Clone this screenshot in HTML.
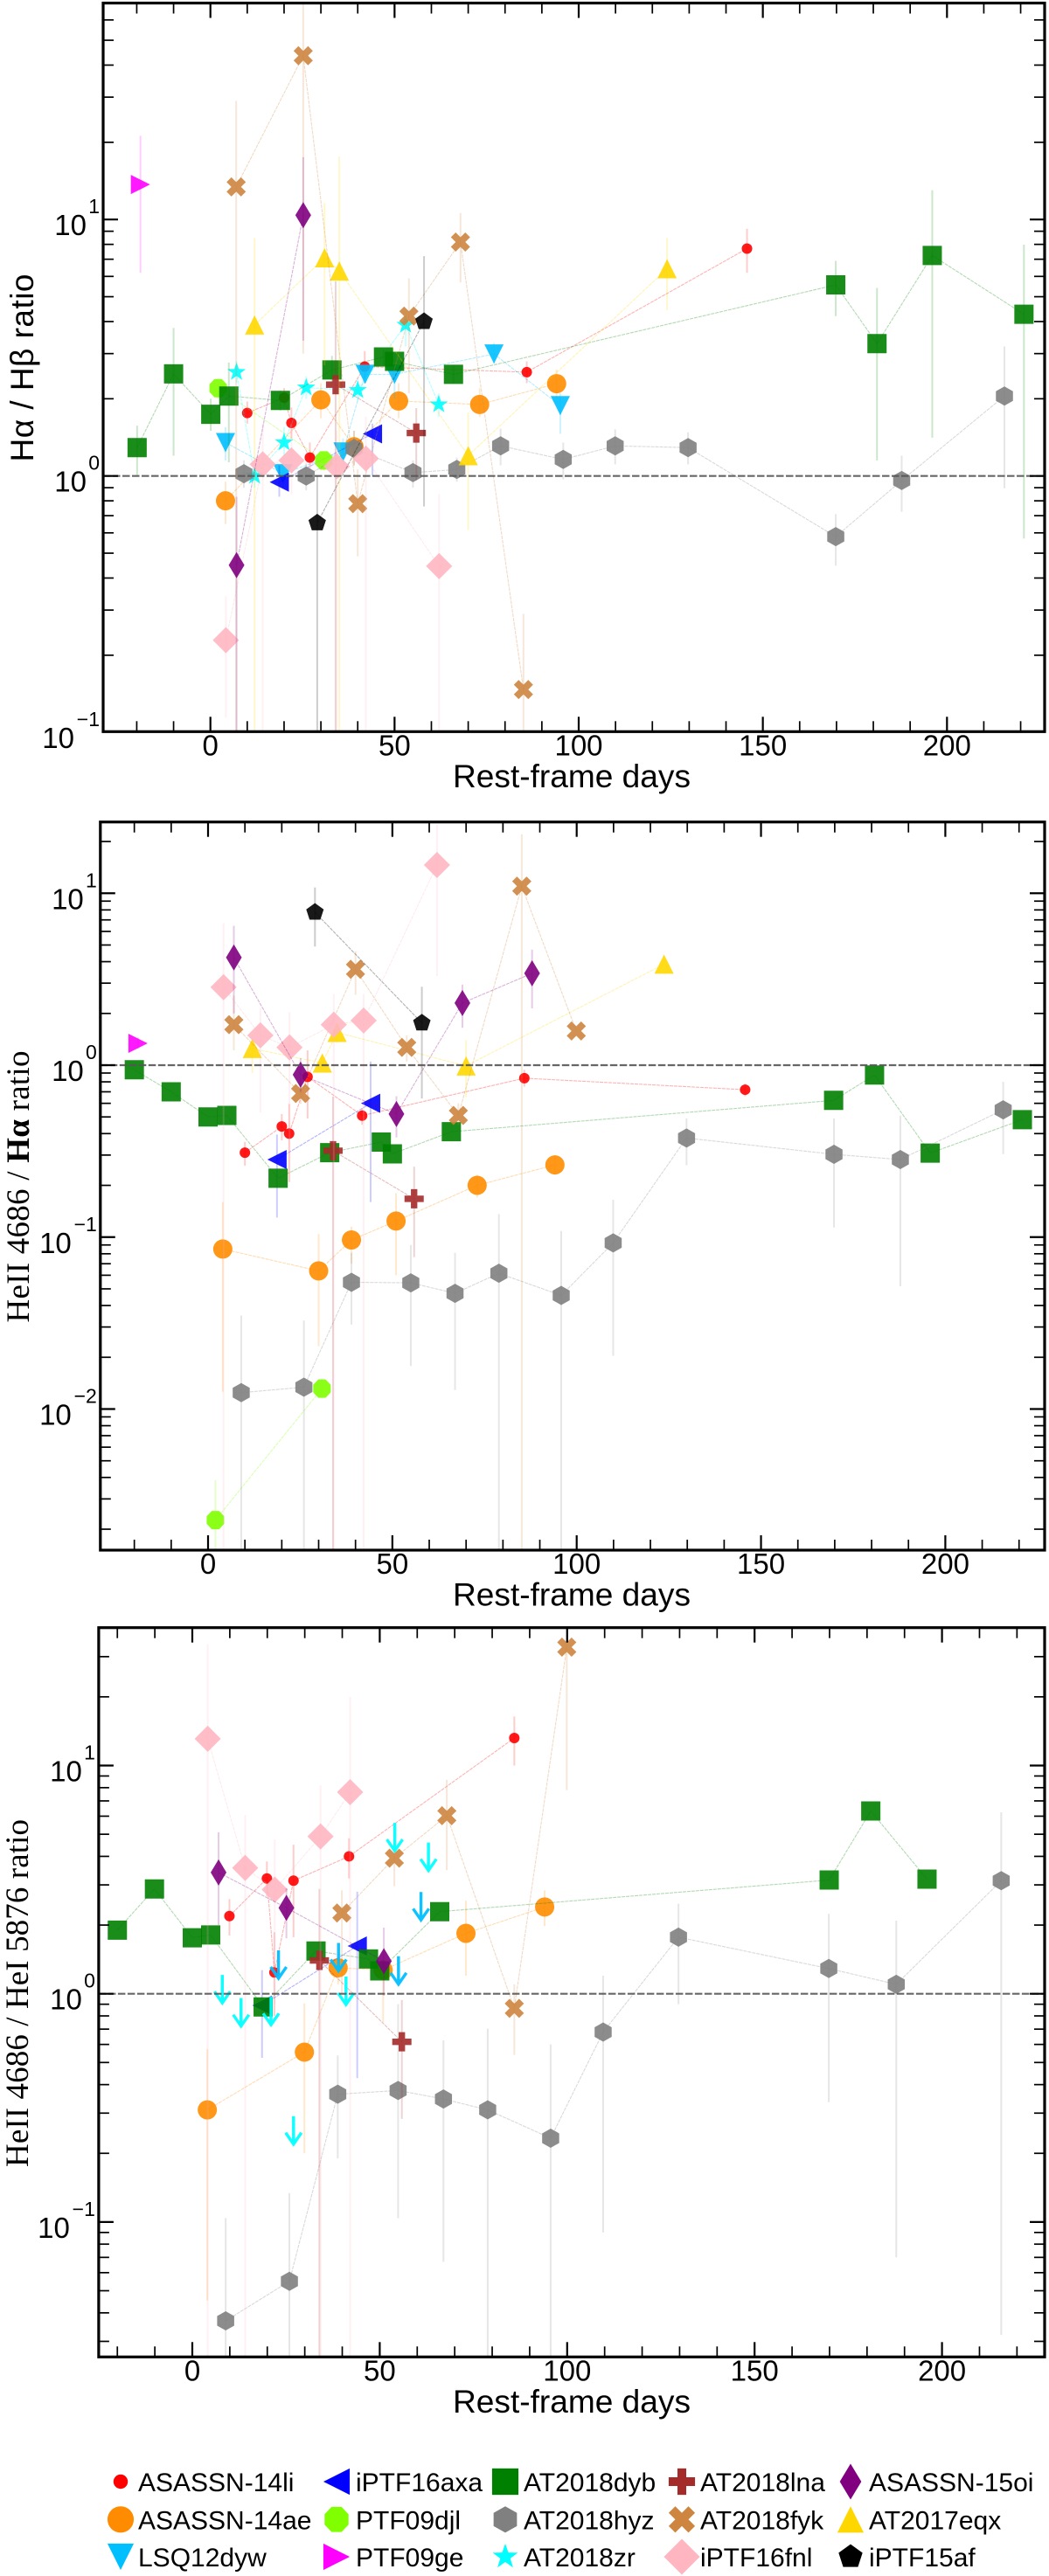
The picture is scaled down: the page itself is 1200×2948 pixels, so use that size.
<!DOCTYPE html>
<html lang="en">
<head>
<meta charset="utf-8">
<title>TDE line ratio evolution</title>
<style>
html,body{margin:0;padding:0;background:#fff;}
svg{display:block;}
text{font-family:"Liberation Sans",sans-serif;fill:#000;}
</style>
</head>
<body>
<svg id="chart" xmlns="http://www.w3.org/2000/svg" width="1200" height="2948" viewBox="0 0 1200 2948"></svg>
<script>
/* ---------- tick labels ---------- */
const xTickLabels = [0, 50, 100, 150, 200];
const p1Decades = [1, 0, -1];
const p2Decades = [1, 0, -1, -2];
const p3Decades = [1, 0, -1];

/* ---------- Panel 1: H-alpha / H-beta ---------- */
const p1LiDays = [10, 20, 22, 27, 41.9, 85.9, 145.7];
const p1LiVal = [1.76, 2.02, 1.61, 1.18, 2.67, 2.54, 7.7];
const p1LiLo = [1.6, 1.85, 1.4, 1.05, 2.3, 2.3, 6.2];
const p1LiHi = [1.95, 2.2, 1.85, 1.35, 3.07, 2.8, 9.2];
const p1AeDays = [4.1, 30, 39, 51.1, 73.1, 94];
const p1AeVal = [0.8, 1.98, 1.3, 1.96, 1.9, 2.29];
const p1AeLo = [0.65, 1.68, 1.1, 1.68, 1.7, 2.0];
const p1AeHi = [0.95, 2.3, 1.5, 2.3, 2.2, 2.6];
const p1LsqDays = [4.1, 19.7, 36, 42, 50, 77, 95];
const p1LsqVal = [1.35, 1.02, 1.24, 2.49, 2.49, 2.99, 1.88];
const p1LsqLo = [1.15, 0.9, 1.1, 2.3, 2.0, 2.75, 1.46];
const p1LsqHi = [1.55, 1.15, 1.4, 2.7, 2.7, 3.3, 2.1];
const p1AxaDays = [18.7, 44];
const p1AxaVal = [0.946, 1.46];
const p1AxaLo = [0.83, 1.0];
const p1AxaHi = [1.1, 1.6];
const p1GeDays = [-19];
const p1GeVal = [13.7];
const p1GeLo = [6.2];
const p1GeHi = [21.2];
const p1DjlDays = [2.1, 30.8];
const p1DjlVal = [2.2, 1.15];
const p1DjlLo = [2.0, 1.05];
const p1DjlHi = [2.4, 1.25];
const p1ZrDays = [7.1, 12, 20, 26, 40, 53, 62];
const p1ZrVal = [2.54, 1.0, 1.35, 2.21, 2.16, 3.88, 1.9];
const p1ZrLo = [2.3, 0.9, 1.2, 2.0, 1.95, 3.2, 1.7];
const p1ZrHi = [2.8, 1.1, 1.55, 2.45, 2.4, 4.4, 2.1];
const p1DybDays = [-19.9, -10, 0.1, 5, 19, 33, 47, 50, 66, 169.8, 181, 196, 220.9];
const p1DybVal = [1.29, 2.5, 1.74, 2.05, 1.97, 2.59, 2.91, 2.8, 2.49, 5.56, 3.28, 7.24, 4.27];
const p1DybLo = [1.01, 1.2, 1.5, 1.13, 1.8, 2.3, 2.7, 2.6, 2.3, 4.2, 1.15, 1.41, 0.57];
const p1DybHi = [1.57, 3.78, 2.0, 2.77, 2.15, 2.94, 3.1, 3.0, 2.7, 6.9, 5.41, 13.0, 7.98];
const p1HyzDays = [9.1, 26, 39, 55, 66.9, 78.8, 95.8, 109.9, 129.7, 169.8, 187.7, 215.6];
const p1HyzVal = [1.02, 1.0, 1.28, 1.03, 1.06, 1.31, 1.16, 1.31, 1.29, 0.58, 0.96, 2.05];
const p1HyzLo = [0.9, 0.88, 1.1, 0.9, 0.95, 1.1, 0.97, 1.11, 1.11, 0.447, 0.725, 0.896];
const p1HyzHi = [1.15, 1.12, 1.5, 1.15, 1.18, 1.53, 1.35, 1.52, 1.48, 0.71, 1.2, 3.2];
const p1LnaDays = [34, 55.9];
const p1LnaVal = [2.27, 1.47];
const p1LnaLo = [0.05, 0.96];
const p1LnaHi = [5.75, 1.84];
const p1EqxDays = [12, 31, 35, 70, 124];
const p1EqxVal = [3.88, 7.09, 6.3, 1.2, 6.43];
const p1EqxLo = [0.05, 2.7, 0.05, 0.615, 4.43];
const p1EqxHi = [8.47, 11.6, 17.6, 1.77, 8.47];
const p1FykDays = [7, 25.2, 40, 53.9, 67.9, 85];
const p1FykVal = [13.4, 43.5, 0.78, 4.2, 8.17, 0.147];
const p1FykLo = [0.05, 3, 0.486, 2.1, 5.68, 0.05];
const p1FykHi = [29, 100, 1.06, 5.9, 10.6, 0.29];
const p1FnlDays = [4.2, 14.2, 22, 34.3, 42.2, 62.1];
const p1FnlVal = [0.229, 1.11, 1.15, 1.09, 1.17, 0.445];
const p1FnlLo = [0.114, 0.05, 0.85, 0.05, 0.05, 0.05];
const p1FnlHi = [0.34, 1.6, 1.6, 1.5, 1.7, 0.85];
const p1OiDays = [7.1, 25.2];
const p1OiVal = [0.449, 10.4];
const p1OiLo = [0.05, 3.37];
const p1OiHi = [0.83, 17.5];
const p1AfDays = [29, 58];
const p1AfVal = [0.656, 4.0];
const p1AfLo = [0.05, 0.76];
const p1AfHi = [1.0, 7.2];

/* ---------- Panel 2: HeII 4686 / H-alpha ---------- */
const p2LiDays = [10, 20, 22, 27, 41.8, 85.8, 145.7];
const p2LiVal = [0.31, 0.44, 0.4, 0.855, 0.509, 0.84, 0.72];
const p2LiLo = [0.26, 0.365, 0.209, 0.49, 0.45, 0.75, 0.66];
const p2LiHi = [0.358, 0.52, 0.595, 1.22, 0.56, 0.94, 0.78];
const p2AeDays = [4, 30, 38.9, 51, 73, 94.1];
const p2AeVal = [0.0852, 0.0636, 0.0962, 0.124, 0.2, 0.263];
const p2AeLo = [0.0126, 0.0232, 0.07, 0.06, 0.17, 0.23];
const p2AeHi = [0.16, 0.104, 0.115, 0.18, 0.23, 0.3];
const p2AxaDays = [18.7, 44.1];
const p2AxaVal = [0.2825, 0.6];
const p2AxaLo = [0.13, 0.16];
const p2AxaHi = [0.395, 1.05];
const p2GeDays = [-19];
const p2GeVal = [1.34];
const p2GeLo = [1.25];
const p2GeHi = [1.45];
const p2DjlDays = [2, 30.9];
const p2DjlVal = [0.00226, 0.01315];
const p2DjlLo = [0.0005, 0.0115];
const p2DjlHi = [0.00386, 0.015];
const p2DybDays = [-20, -10, 0, 5.1, 19, 33, 47, 50, 66, 169.7, 180.8, 195.9, 220.9];
const p2DybVal = [0.94, 0.7, 0.5, 0.51, 0.22, 0.31, 0.357, 0.305, 0.41, 0.624, 0.876, 0.308, 0.482];
const p2DybLo = [null, null, null, null, null, null, null, null, null, null, null, null, null];
const p2DybHi = [null, null, null, null, null, null, null, null, null, null, null, null, null];
const p2HyzDays = [9, 26, 38.9, 55, 67, 78.9, 95.8, 109.9, 129.8, 169.8, 187.8, 215.7];
const p2HyzVal = [0.01245, 0.0134, 0.0546, 0.0542, 0.0471, 0.0616, 0.0458, 0.0925, 0.377, 0.303, 0.2825, 0.55];
const p2HyzLo = [0.0005, 0.0005, 0.031, 0.0178, 0.0129, 0.0005, 0.0005, 0.0204, 0.262, 0.1137, 0.0518, 0.304];
const p2HyzHi = [0.035, 0.0327, 0.081, 0.09, 0.081, 0.136, 0.1086, 0.165, 0.49, 0.49, 0.509, 0.8];
const p2LnaDays = [33.9, 55.9];
const p2LnaVal = [0.318, 0.167];
const p2LnaLo = [0.0005, 0.0764];
const p2LnaHi = [0.656, 0.257];
const p2EqxDays = [12, 31, 35, 70, 123.7];
const p2EqxVal = [1.25, 1.03, 1.55, 0.99, 3.87];
const p2EqxLo = [0.9, null, 1.35, 0.65, null];
const p2EqxHi = [1.5, null, 1.75, 1.4, null];
const p2FykDays = [7, 25.1, 40, 53.9, 67.9, 85.1, 99.9];
const p2FykVal = [1.72, 0.685, 3.61, 1.27, 0.51, 11, 1.58];
const p2FykLo = [1.22, 0.595, 2.57, 1.05, 0.45, 0.0005, null];
const p2FykHi = [2.54, 0.845, 4.6, 1.49, 0.6, 22, null];
const p2FnlDays = [4.2, 14.2, 22.1, 34.1, 42.2, 62.1];
const p2FnlVal = [2.84, 1.49, 1.27, 1.72, 1.82, 14.6];
const p2FnlLo = [0.0005, 0.53, 0.21, 0.0005, 0.0005, 3.3];
const p2FnlHi = [6.7, 2.15, 2.03, 2.6, 2.6, 25];
const p2OiDays = [7, 25.1, 51.1, 69, 87.9];
const p2OiVal = [4.23, 0.88, 0.52, 2.3, 3.42];
const p2OiLo = [2.0, 0.7, 0.38, 1.65, 2.14];
const p2OiHi = [6.47, 1.1, 0.66, 2.94, 4.7];
const p2AfDays = [29, 58];
const p2AfVal = [7.75, 1.76];
const p2AfLo = [4.9, 0.64];
const p2AfHi = [10.8, 2.86];

/* ---------- Panel 3: HeII 4686 / HeI 5876 ---------- */
const p3LiDays = [9.9, 19.9, 21.9, 27, 41.8, 85.9];
const p3LiVal = [2.19, 3.2, 1.24, 3.13, 4.0, 13.2];
const p3LiLo = [1.8, 2.67, 0.8, 1.77, 3.2, 10];
const p3LiHi = [2.6, 3.8, 1.86, 4.5, 4.8, 16.4];
const p3AeDays = [4, 29.9, 38.9, 50.9, 73, 94];
const p3AeVal = [0.31, 0.555, 1.3, 1.27, 1.84, 2.4];
const p3AeLo = [0.0453, 0.2, 1.1, 0.75, 1.2, 1.98];
const p3AeHi = [0.572, 0.908, 1.5, 1.5, 2.56, 2.84];
const p3LsqLimitDays = [23, 39, 55, 61];
const p3LsqLimitVal = [1.55, 1.67, 1.46, 2.79];
const p3AxaDays = [18.6, 44];
const p3AxaVal = [0.889, 1.62];
const p3AxaLo = [0.524, 0.427];
const p3AxaHi = [1.27, 2.8];
const p3ZrLimitDays = [8, 13, 21, 27, 41, 54, 63];
const p3ZrLimitVal = [1.21, 0.957, 0.97, 0.291, 1.19, 5.61, 4.6];
const p3DybDays = [-20, -10.1, 0, 4.9, 18.9, 33, 47, 50, 66, 169.9, 181, 196];
const p3DybVal = [1.9, 2.88, 1.76, 1.81, 0.876, 1.54, 1.42, 1.26, 2.29, 3.15, 6.32, 3.18];
const p3DybLo = [null, null, null, null, null, null, null, null, null, null, null, null];
const p3DybHi = [null, null, null, null, null, null, null, null, null, null, null, null];
const p3HyzDays = [8.9, 25.9, 38.8, 54.9, 67, 78.8, 95.6, 109.6, 129.7, 169.8, 187.8, 215.8];
const p3HyzVal = [0.0369, 0.055, 0.363, 0.377, 0.346, 0.31, 0.233, 0.68, 1.77, 1.29, 1.1, 3.13];
const p3HyzLo = [0.01, 0.01, 0.19, 0.104, 0.067, 0.01, 0.01, 0.09, 0.9, 0.335, 0.07, 0.032];
const p3HyzHi = [0.104, 0.134, 0.537, 0.9, 0.625, 0.703, 0.6, 1.2, 2.48, 2.24, 2.09, 6.24];
const p3LnaDays = [33.9, 55.9];
const p3LnaVal = [1.4, 0.616];
const p3LnaLo = [0.01, 0.283];
const p3LnaHi = [2.88, 0.94];
const p3FykDays = [39.9, 53.9, 67.9, 85.9, 99.9];
const p3FykVal = [2.26, 3.93, 6.03, 0.863, 33];
const p3FykLo = [1.0, 2.96, 3.48, 0.54, 7.8];
const p3FykHi = [2.84, 4.9, 8.66, 1.1, 40];
const p3FnlDays = [4.1, 14.1, 22, 34.2, 42.1];
const p3FnlVal = [13.1, 3.56, 2.86, 4.89, 7.64];
const p3FnlLo = [0.01, 0.01, 0.9, 0.01, 0.01];
const p3FnlHi = [34, 6.08, 4.74, 8.17, 20];
const p3OiDays = [7, 25.1, 51.1];
const p3OiVal = [3.4, 2.38, 1.39];
const p3OiLo = [2.0, 1.75, 0.98];
const p3OiHi = [5.1, 2.9, 1.95];

/* ---------- styling (not data) ---------- */
const NS = 'http://www.w3.org/2000/svg';
const svg = document.getElementById('chart');
const styles = {
  li:  {label:'ASASSN-14li', color:'#ff0000', shape:'circle',  w:12, h:12},
  ae:  {label:'ASASSN-14ae', color:'#ff8c00', shape:'circle',  w:22, h:22},
  lsq: {label:'LSQ12dyw',    color:'#00bfff', shape:'down',    w:22, h:22},
  axa: {label:'iPTF16axa',   color:'#0000ff', shape:'left',    w:22, h:22},
  ge:  {label:'PTF09ge',     color:'#ff00ff', shape:'right',   w:22, h:22},
  djl: {label:'PTF09djl',    color:'#7fff00', shape:'octagon', w:20, h:21},
  zr:  {label:'AT2018zr',    color:'#00ffff', shape:'star',    w:21, h:21},
  dyb: {label:'AT2018dyb',   color:'#008000', shape:'square',  w:22, h:22},
  hyz: {label:'AT2018hyz',   color:'#808080', shape:'hexagon', w:19.5, h:22},
  lna: {label:'AT2018lna',   color:'#a52a2a', shape:'plus',    w:22, h:22},
  eqx: {label:'AT2017eqx',   color:'#ffd700', shape:'up',      w:22, h:22},
  fyk: {label:'AT2018fyk',   color:'#cd853f', shape:'x',       w:22, h:22},
  fnl: {label:'iPTF16fnl',   color:'#ffb6c1', shape:'diamond', w:30, h:30},
  oi:  {label:'ASASSN-15oi', color:'#800080', shape:'diamond', w:18, h:30},
  af:  {label:'iPTF15af',    color:'#000000', shape:'pentagon',w:20, h:20}
};

const panel1Series = [
  ['li',p1LiDays,p1LiVal,p1LiLo,p1LiHi],['ae',p1AeDays,p1AeVal,p1AeLo,p1AeHi],
  ['lsq',p1LsqDays,p1LsqVal,p1LsqLo,p1LsqHi],['axa',p1AxaDays,p1AxaVal,p1AxaLo,p1AxaHi],
  ['ge',p1GeDays,p1GeVal,p1GeLo,p1GeHi],['djl',p1DjlDays,p1DjlVal,p1DjlLo,p1DjlHi],
  ['zr',p1ZrDays,p1ZrVal,p1ZrLo,p1ZrHi],['dyb',p1DybDays,p1DybVal,p1DybLo,p1DybHi],
  ['hyz',p1HyzDays,p1HyzVal,p1HyzLo,p1HyzHi],['lna',p1LnaDays,p1LnaVal,p1LnaLo,p1LnaHi],
  ['eqx',p1EqxDays,p1EqxVal,p1EqxLo,p1EqxHi],['fyk',p1FykDays,p1FykVal,p1FykLo,p1FykHi],
  ['fnl',p1FnlDays,p1FnlVal,p1FnlLo,p1FnlHi],['oi',p1OiDays,p1OiVal,p1OiLo,p1OiHi],
  ['af',p1AfDays,p1AfVal,p1AfLo,p1AfHi]
];
const panel2Series = [
  ['li',p2LiDays,p2LiVal,p2LiLo,p2LiHi],['ae',p2AeDays,p2AeVal,p2AeLo,p2AeHi],
  ['axa',p2AxaDays,p2AxaVal,p2AxaLo,p2AxaHi],['ge',p2GeDays,p2GeVal,p2GeLo,p2GeHi],
  ['djl',p2DjlDays,p2DjlVal,p2DjlLo,p2DjlHi],['dyb',p2DybDays,p2DybVal,p2DybLo,p2DybHi],
  ['hyz',p2HyzDays,p2HyzVal,p2HyzLo,p2HyzHi],['lna',p2LnaDays,p2LnaVal,p2LnaLo,p2LnaHi],
  ['eqx',p2EqxDays,p2EqxVal,p2EqxLo,p2EqxHi],['fyk',p2FykDays,p2FykVal,p2FykLo,p2FykHi],
  ['fnl',p2FnlDays,p2FnlVal,p2FnlLo,p2FnlHi],['oi',p2OiDays,p2OiVal,p2OiLo,p2OiHi],
  ['af',p2AfDays,p2AfVal,p2AfLo,p2AfHi]
];
const panel3Series = [
  ['li',p3LiDays,p3LiVal,p3LiLo,p3LiHi],['ae',p3AeDays,p3AeVal,p3AeLo,p3AeHi],
  ['axa',p3AxaDays,p3AxaVal,p3AxaLo,p3AxaHi],['dyb',p3DybDays,p3DybVal,p3DybLo,p3DybHi],
  ['hyz',p3HyzDays,p3HyzVal,p3HyzLo,p3HyzHi],['lna',p3LnaDays,p3LnaVal,p3LnaLo,p3LnaHi],
  ['fyk',p3FykDays,p3FykVal,p3FykLo,p3FykHi],['fnl',p3FnlDays,p3FnlVal,p3FnlLo,p3FnlHi],
  ['oi',p3OiDays,p3OiVal,p3OiLo,p3OiHi]
];
const panel3Limits = [
  ['zr',p3ZrLimitDays,p3ZrLimitVal],
  ['lsq',p3LsqLimitDays,p3LsqLimitVal]
];

function make(tag, attrs, parent){
  const e = document.createElementNS(NS, tag);
  for (const k in attrs) e.setAttribute(k, attrs[k]);
  parent.appendChild(e);
  return e;
}

function shapePath(shape, cx, cy, w, h){
  const a = w/2, b = h/2;
  const poly = pts => 'M' + pts.map(p => (cx + p[0]*a).toFixed(2) + ' ' + (cy + p[1]*b).toFixed(2)).join('L') + 'Z';
  const ring = (n, rot) => { const r = []; for (let i = 0; i < n; i++){ const t = rot + i*2*Math.PI/n; r.push([Math.cos(t), Math.sin(t)]); } return r; };
  switch (shape){
    case 'down': return poly([[-1,-1],[1,-1],[0,1]]);
    case 'up': return poly([[-1,1],[1,1],[0,-1]]);
    case 'left': return poly([[1,-1],[1,1],[-1,0]]);
    case 'right': return poly([[-1,-1],[-1,1],[1,0]]);
    case 'square': return poly([[-1,-1],[1,-1],[1,1],[-1,1]]);
    case 'diamond': return poly([[0,-1],[1,0],[0,1],[-1,0]]);
    case 'plus': { const t = 1/3; return poly([[-t,-1],[t,-1],[t,-t],[1,-t],[1,t],[t,t],[t,1],[-t,1],[-t,t],[-1,t],[-1,-t],[-t,-t]]); }
    case 'x': return poly([[-.5,-1],[0,-.5],[.5,-1],[1,-.5],[.5,0],[1,.5],[.5,1],[0,.5],[-.5,1],[-1,.5],[-.5,0],[-1,-.5]]);
    case 'hexagon': { const r = ring(6, -Math.PI/2).map(p => [p[0]/0.866, p[1]]); return poly(r); }
    case 'octagon': return poly(ring(8, Math.PI/8).map(p => [p[0]/0.924, p[1]/0.924]));
    case 'pentagon': return poly(ring(5, -Math.PI/2).map(p => [p[0]*1.05, p[1]*1.05]));
    case 'star': { const out = []; for (let i = 0; i < 10; i++){ const t = -Math.PI/2 + i*Math.PI/5; const q = i % 2 ? 0.42 : 1.05; out.push([q*Math.cos(t), q*Math.sin(t)]); } return poly(out); }
  }
  return '';
}

function drawMarker(parent, key, cx, cy, scale, opacity){
  const st = styles[key];
  const w = st.w*scale, h = st.h*scale;
  let m;
  if (st.shape === 'circle') {
    m = make('ellipse', {cx:cx, cy:cy, rx:w/2, ry:h/2, fill:st.color, 'fill-opacity':opacity}, parent);
  } else {
    m = make('path', {d:shapePath(st.shape, cx, cy, w, h), fill:st.color, 'fill-opacity':opacity}, parent);
  }
  
  
  return m;
}

function drawPanel(cfg){
  const xAt = d => cfg.x0 + cfg.kx*d;
  const yAt = v => cfg.y1 - cfg.dec*Math.log10(v);
  const g = make('g', {}, svg);
  
  

  const clipId = cfg.name + '-clip';
  const defs = make('defs', {}, g);
  const cp = make('clipPath', {id:clipId}, defs);
  make('rect', {x:cfg.L, y:cfg.T, width:cfg.R-cfg.L, height:cfg.B-cfg.T}, cp);

  const plot = make('g', {'clip-path':'url(#' + clipId + ')'}, g);
  
  

  cfg.series.forEach(row => {
    const key = row[0], days = row[1], vals = row[2], lo = row[3], hi = row[4];
    const st = styles[key];
    const sg = make('g', {}, plot);
    
    
    if (days.length > 1){
      const pts = days.map((d,i) => xAt(d).toFixed(2) + ',' + yAt(vals[i]).toFixed(2)).join(' ');
      const ln = make('polyline', {points:pts, fill:'none', stroke:st.color, 'stroke-opacity':0.3, 'stroke-width':1.1, 'stroke-dasharray':'4 1'}, sg);
      
      
    }
    days.forEach((d,i) => {
      if (lo[i] === null || hi[i] === null) return;
      const bar = make('line', {x1:xAt(d), x2:xAt(d), y1:yAt(hi[i]), y2:yAt(lo[i]), stroke:st.color, 'stroke-opacity':0.2, 'stroke-width':2}, sg);
      
      
    });
    days.forEach((d,i) => drawMarker(sg, key, xAt(d), yAt(vals[i]), 1, 0.9));
  });

  (cfg.limits || []).forEach(row => {
    const key = row[0], days = row[1], vals = row[2];
    const st = styles[key];
    const sg = make('g', {}, plot);
    
    
    days.forEach((d,i) => {
      const x = xAt(d), y = yAt(vals[i]);
      const a = make('path', {d:'M' + x + ' ' + y + 'V' + (y+32) + 'M' + (x-9) + ' ' + (y+19) + 'L' + x + ' ' + (y+32) + 'L' + (x+9) + ' ' + (y+19), fill:'none', stroke:st.color, 'stroke-opacity':0.95, 'stroke-width':3.4}, sg);
      
      
    });
  });

  const ref = make('line', {x1:cfg.L, x2:cfg.R, y1:yAt(1), y2:yAt(1), stroke:'#555', 'stroke-opacity':0.9, 'stroke-width':2.2, 'stroke-dasharray':'8.5 2.5'}, g);
  
  

  const ticks = make('g', {stroke:'#000'}, g);
  
  
  for (let d = -20; d <= 220; d += 10){
    const x = xAt(d);
    if (x <= cfg.L || x >= cfg.R) continue;
    const major = d % 50 === 0;
    const len = major ? 17 : 12, sw = major ? 2.2 : 1.7;
    make('line', {x1:x, x2:x, y1:cfg.B, y2:cfg.B-len, 'stroke-width':sw}, ticks);
    make('line', {x1:x, x2:x, y1:cfg.T, y2:cfg.T+len, 'stroke-width':sw}, ticks);
  }
  for (let e = -4; e <= 2; e++){
    for (let m = 1; m <= 9; m++){
      const y = cfg.y1 - cfg.dec*(e + Math.log10(m));
      if (y <= cfg.T+1 || y >= cfg.B-1) continue;
      const len = m === 1 ? 17 : 12, sw = m === 1 ? 2.2 : 1.7;
      make('line', {x1:cfg.L, x2:cfg.L+len, y1:y, y2:y, 'stroke-width':sw}, ticks);
      make('line', {x1:cfg.R, x2:cfg.R-len, y1:y, y2:y, 'stroke-width':sw}, ticks);
    }
  }

  const frame = make('rect', {x:cfg.L, y:cfg.T, width:cfg.R-cfg.L, height:cfg.B-cfg.T, fill:'none', stroke:'#000', 'stroke-width':3.2}, g);
  
  

  xTickLabels.forEach(t => {
    const tx = make('text', {x:xAt(t), y:cfg.B+27, 'font-size':33, 'text-anchor':'middle'}, g);
    tx.textContent = String(t);
    
    
  });
  cfg.decades.forEach(e => {
    const y = cfg.y1 - cfg.dec*e;
    const neg = e < 0;
    const base = make('text', {x:cfg.L-(neg?33:19), y:y+18, 'font-size':33, 'text-anchor':'end'}, g);
    base.textContent = '10';
    
    
    const sup = make('text', {x:cfg.L-4, y:y-7, 'font-size':23, 'text-anchor':'end'}, g);
    sup.textContent = neg ? '\u2212' + Math.abs(e) : String(e);
    
    
  });

  const xl = make('text', {x:654, y:cfg.B+63.5, 'font-size':37, 'text-anchor':'middle', textLength:272, lengthAdjust:'spacingAndGlyphs'}, g);
  xl.textContent = 'Rest-frame days';
  
  

  const yl = make('text', {transform:'translate(' + cfg.labelX + ' ' + cfg.labelY + ') rotate(-90)', 'font-size':37, 'text-anchor':'middle', textLength:cfg.labelLen, lengthAdjust:'spacing'}, g);
  
  
  if (cfg.serif) yl.style.fontFamily = '"Liberation Serif",serif';
  cfg.labelParts.forEach(p => {
    const sp = make('tspan', p[1] ? {'font-weight':'bold'} : {}, yl);
    sp.textContent = p[0];
  });
}

drawPanel({name:'halpha-hbeta-panel', L:118, R:1195, T:3.5, B:837.3, x0:240.7, kx:4.213, y1:544.7, dec:293.5,
  decades:p1Decades, series:panel1Series, labelX:38, labelY:421, labelLen:215, serif:false,
  labelParts:[['H\u03B1 / H\u03B2 ratio',false]]});
drawPanel({name:'heii-halpha-panel', L:114.8, R:1195, T:940.7, B:1774, x0:238, kx:4.217, y1:1219, dec:196.75,
  decades:p2Decades, series:panel2Series, labelX:33, labelY:1358, labelLen:311, serif:true,
  labelParts:[['HeII 4686 / ',false],['H\u03B1',true],[' ratio',false]]});
drawPanel({name:'heii-hei-panel', L:112.9, R:1195, T:1862.7, B:2697.3, x0:220, kx:4.288, y1:2281.7, dec:261.2,
  decades:p3Decades, series:panel3Series, limits:panel3Limits, labelX:32, labelY:2281, labelLen:398, serif:true,
  labelParts:[['HeII 4686 / HeI 5876 ratio',false]]});

/* ---------- legend ---------- */
const legendColumns = [['li','ae','lsq'],['axa','djl','ge'],['dyb','hyz','zr'],['lna','fyk','fnl'],['oi','eqx','af']];
const legendMarkerX = [138, 385, 578, 780, 973];
const legendTextX = [158, 407, 599, 801, 994];
const legendRowY = [2840, 2883.3, 2926];
const legend = make('g', {}, svg);


legendColumns.forEach((col, c) => {
  col.forEach((key, r) => {
    const entry = make('g', {}, legend);
    
    
    drawMarker(entry, key, legendMarkerX[c], legendRowY[r], 1.37, 1);
    const t = make('text', {x:legendTextX[c], y:legendRowY[r]+11, 'font-size':30}, entry);
    t.textContent = styles[key].label;
    
    
  });
});
</script>
</body>
</html>
